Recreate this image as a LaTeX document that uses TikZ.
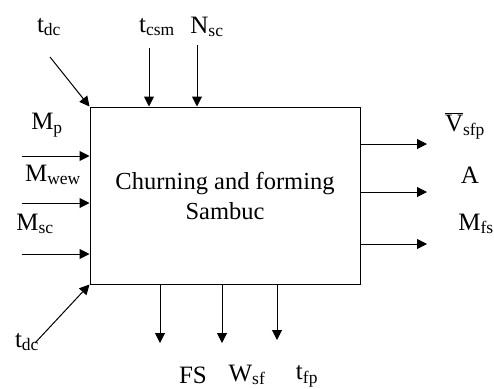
\documentclass[tikz,border=0pt]{standalone}
\usepackage{fontspec}
\setmainfont{Liberation Serif}
\usetikzlibrary{arrows.meta}
\tikzset{
  every picture/.style={line width=1pt},
  flow/.style={-{Triangle[length=10pt,width=10pt]}},
  lbl/.style={inner sep=0pt,font=\fontsize{25}{30}\selectfont}
}
\newcommand{\sub}[1]{\textsubscript{#1}}
\begin{document}
\begin{tikzpicture}[x=1pt,y=-1pt]
\useasboundingbox (0,0) rectangle (494,388);
\node[rectangle,draw=black,minimum width=270,minimum height=177,align=center,
  font=\fontsize{24.5}{30}\selectfont] (process) at (225,195.5) {Churning and forming\\Sambuc};

% inputs on top
\node[lbl] (tdctop) at (49,27) {t\sub{dc}};
\coordinate (dcin) at (50,57);
\draw[flow] (dcin)--(process.north west);
\node[lbl] (tcsm) at (157,27) {t\sub{csm}};
\coordinate (csmin) at (149,48);
\draw[flow] (csmin)--(csmin |- process.north);
\node[lbl] (nsc) at (207,27) {N\sub{sc}};
\coordinate (scin) at (197,45);
\draw[flow] (scin)--(scin |- process.north);

% inputs on the left
\node[lbl] (mp) at (47,125) {M\sub{p}};
\coordinate (pin) at (22,156);
\draw[flow] (pin)--(pin -| process.west);
\node[lbl] (mwew) at (53,175) {M\sub{wew}};
\coordinate (wewin) at (22,203);
\draw[flow] (wewin)--(wewin -| process.west);
\node[lbl] (msc) at (35,224) {M\sub{sc}};
\coordinate (mscin) at (22,254);
\draw[flow] (mscin)--(mscin -| process.west);

\node[lbl] (tdcbot) at (27,342) {t\sub{dc}};
\coordinate (dcbot) at (35,343);
\draw[flow] (dcbot)--(process.south west);

% outputs on the right
\coordinate (vout) at (427,144);
\draw[flow] (vout -| process.east)--(vout);
\node[lbl] (vsfp) at (465,126) {$\overline{\mbox{V}}$\sub{sfp}};
\coordinate (aout) at (427,192);
\draw[flow] (aout -| process.east)--(aout);
\node[lbl] (area) at (470,175) {A};
\coordinate (fsout) at (427,244);
\draw[flow] (fsout -| process.east)--(fsout);
\node[lbl] (mfs) at (476,224) {M\sub{fs}};

% outputs at the bottom
\coordinate (fsdown) at (160,343);
\draw[flow] (fsdown |- process.south)--(fsdown);
\node[lbl] (fs) at (193,375) {FS};
\coordinate (wdown) at (222,343);
\draw[flow] (wdown |- process.south)--(wdown);
\node[lbl] (wsf) at (247,375) {W\sub{sf}};
\coordinate (tdown) at (277,340);
\draw[flow] (tdown |- process.south)--(tdown);
\node[lbl] (tfp) at (307,376) {t\sub{fp}};
\end{tikzpicture}
\end{document}
